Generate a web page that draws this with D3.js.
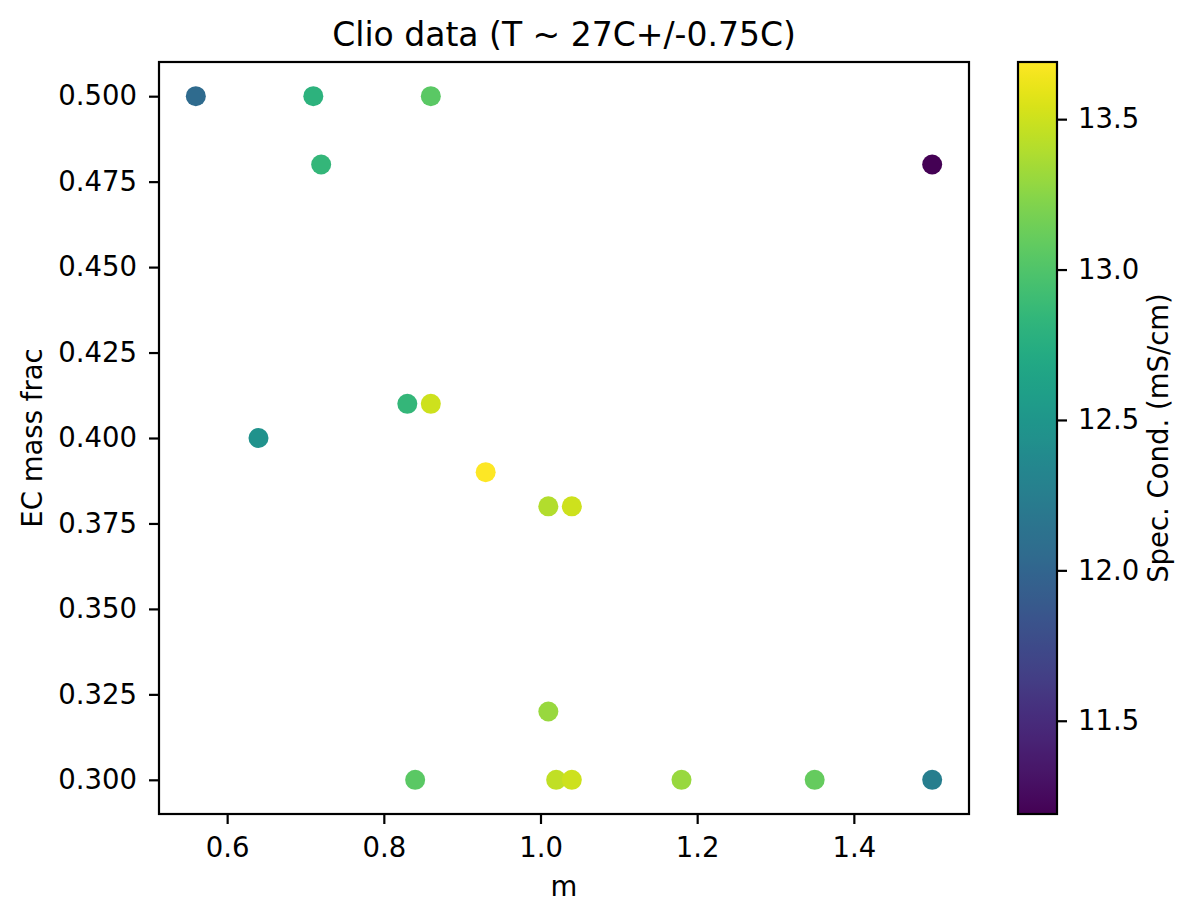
<!DOCTYPE html>
<html>
<head>
<meta charset="utf-8">
<script src="https://cdn.jsdelivr.net/npm/d3@7"></script>
<style>
  body { margin: 0; background: #fff; }
  svg text { font-family: "DejaVu Sans", "Noto Sans", sans-serif; }
</style>
</head>
<body>
<div id="chart"></div>
<script>
// data
const mValues   = [0.56, 0.71, 0.86, 0.72, 1.50, 0.83, 0.86, 0.64, 0.93, 1.01, 1.04, 1.01, 0.84, 1.02, 1.04, 1.18, 1.35, 1.50];
const ecFrac    = [0.50, 0.50, 0.50, 0.48, 0.48, 0.41, 0.41, 0.40, 0.39, 0.38, 0.38, 0.32, 0.30, 0.30, 0.30, 0.30, 0.30, 0.30];
const specCond  = [12.05, 12.8, 13.05, 12.85, 11.19, 12.85, 13.5, 12.45, 13.69, 13.4, 13.5, 13.3, 13.05, 13.45, 13.5, 13.3, 13.1, 12.25];

const xTicks = [0.6, 0.8, 1.0, 1.2, 1.4];
const yTicks = [0.300, 0.325, 0.350, 0.375, 0.400, 0.425, 0.450, 0.475, 0.500];
const cTicks = [11.5, 12.0, 12.5, 13.0, 13.5];

const W = 1190, H = 912;
const plot = { left: 159, right: 969, top: 62, bottom: 814 };
const cbar = { left: 1018, right: 1057 };
const FONT = "DejaVu Sans";
const FS = 27.5;

const svg = d3.select("#chart").append("svg").attr("width", W).attr("height", H);

// matplotlib-style 5% margins
const xMin = d3.min(mValues), xMax = d3.max(mValues);
const yMin = d3.min(ecFrac), yMax = d3.max(ecFrac);
const xPad = (xMax - xMin) * 0.05, yPad = (yMax - yMin) * 0.05;

const x = d3.scaleLinear().domain([xMin - xPad, xMax + xPad]).range([plot.left, plot.right]);
const y = d3.scaleLinear().domain([yMin - yPad, yMax + yPad]).range([plot.bottom, plot.top]);

const cMin = d3.min(specCond), cMax = d3.max(specCond);
const color = d3.scaleSequential(d3.interpolateViridis).domain([cMin, cMax]);
const cy = d3.scaleLinear().domain([cMin, cMax]).range([plot.bottom, plot.top]);

function styleAxis(g) {
  g.attr("font-family", FONT);
  g.selectAll(".domain").remove();
  g.selectAll(".tick line").attr("stroke", "#000").attr("stroke-width", 2.2);
  g.selectAll(".tick text").attr("fill", "#000").style("font-size", FS + "px");
}

// points
svg.append("g").selectAll("circle")
  .data(mValues.map((m, i) => ({ m: m, e: ecFrac[i], c: specCond[i] })))
  .join("circle")
  .attr("cx", d => x(d.m))
  .attr("cy", d => y(d.e))
  .attr("r", 10)
  .attr("fill", d => color(d.c));

// axes
svg.append("g")
  .attr("transform", `translate(0,${plot.bottom})`)
  .call(d3.axisBottom(x).tickValues(xTicks).tickFormat(d3.format(".1f")).tickSize(10).tickPadding(7))
  .call(styleAxis)
  .selectAll(".tick text").attr("dy", "0.95em");

svg.append("g")
  .attr("transform", `translate(${plot.left},0)`)
  .call(d3.axisLeft(y).tickValues(yTicks).tickFormat(d3.format(".3f")).tickSize(10).tickPadding(12))
  .call(styleAxis);

// frame
svg.append("rect")
  .attr("x", plot.left).attr("y", plot.top)
  .attr("width", plot.right - plot.left).attr("height", plot.bottom - plot.top)
  .attr("fill", "none").attr("stroke", "#000").attr("stroke-width", 2.2);

// colorbar
const grad = svg.append("defs").append("linearGradient")
  .attr("id", "viridis").attr("x1", "0").attr("y1", "1").attr("x2", "0").attr("y2", "0");
d3.range(0, 1.0001, 0.02).forEach(t => {
  grad.append("stop").attr("offset", t).attr("stop-color", d3.interpolateViridis(t));
});
svg.append("rect")
  .attr("x", cbar.left).attr("y", plot.top)
  .attr("width", cbar.right - cbar.left).attr("height", plot.bottom - plot.top)
  .attr("fill", "url(#viridis)").attr("stroke", "#000").attr("stroke-width", 2.2);

svg.append("g")
  .attr("transform", `translate(${cbar.right},0)`)
  .call(d3.axisRight(cy).tickValues(cTicks).tickFormat(d3.format(".1f")).tickSize(10).tickPadding(11))
  .call(styleAxis);

// labels
svg.append("text")
  .attr("x", (plot.left + plot.right) / 2).attr("y", 46)
  .attr("text-anchor", "middle").attr("font-family", FONT).style("font-size", "33px")
  .text("Clio data (T ~ 27C+/-0.75C)");

svg.append("text")
  .attr("x", (plot.left + plot.right) / 2).attr("y", 896)
  .attr("text-anchor", "middle").attr("font-family", FONT).style("font-size", FS + "px")
  .text("m");

svg.append("text")
  .attr("transform", `translate(42,${(plot.top + plot.bottom) / 2}) rotate(-90)`)
  .attr("text-anchor", "middle").attr("font-family", FONT).style("font-size", FS + "px")
  .text("EC mass frac");

svg.append("text")
  .attr("transform", `translate(1168,${(plot.top + plot.bottom) / 2}) rotate(-90)`)
  .attr("text-anchor", "middle").attr("font-family", FONT).style("font-size", FS + "px")
  .text("Spec. Cond. (mS/cm)");
</script>
</body>
</html>
